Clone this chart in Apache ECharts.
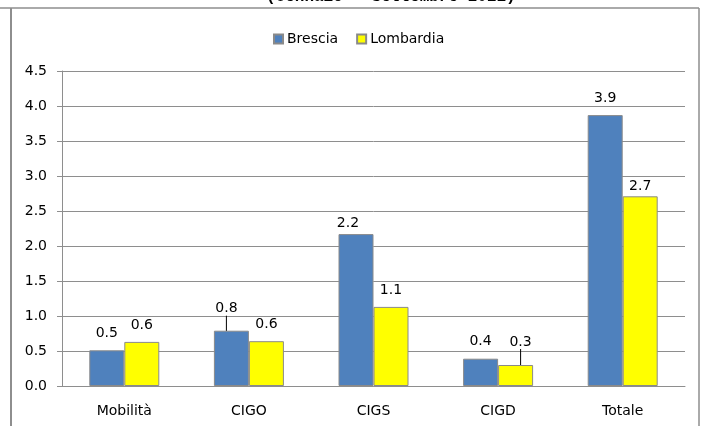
<!DOCTYPE html>
<html>
<head>
<meta charset="utf-8">
<script src="https://cdn.jsdelivr.net/npm/echarts@6/dist/echarts.min.js"></script>
<style>
  html, body { margin: 0; padding: 0; background: #fff; }
  #chart { width: 704px; height: 426px; }
</style>
</head>
<body>
<div id="chart"></div>
<script>
    'use strict';

    const categories = ['Mobilità', 'CIGO', 'CIGS', 'CIGD', 'Totale'];
    const brescia = [0.51, 0.79, 2.17, 0.39, 3.87];
    const lombardia = [0.63, 0.64, 1.13, 0.30, 2.71];
    const yTicks = [0, 0.5, 1, 1.5, 2, 2.5, 3, 3.5, 4, 4.5];

    // label nudges (seriesIndex -> dataIndex -> [dx, dy, leader line])
    const labelMoves = {
        0: { 1: [-5, -5, true], 2: [-8, 6, false] },
        1: { 3: [5, -6, true], 4: [0, 7, false] }
    };

    const font = 'DejaVu Sans';
    const gray = '#8e8e8e';

    const chart = echarts.init(document.getElementById('chart'));

    function barSeries(name, values, color, idx) {
        const moves = labelMoves[idx] || {};
        return {
            name: name,
            type: 'bar',
            data: values.map(function(v, i) {
                const m = moves[i];
                return { value: v, labelLine: { show: !!(m && m[2]) } };
            }),
            barWidth: 35,
            barGap: '0%',
            itemStyle: { color: color, borderColor: '#8a8a8a', borderWidth: 1 },
            label: {
                show: true,
                position: 'top',
                distance: 10,
                color: '#000',
                fontFamily: font,
                fontSize: 14,
                formatter: function(p) { return p.value.toFixed(1); }
            },
            labelLine: { show: false, lineStyle: { color: '#000', width: 1 } },
            labelLayout: function(p) {
                const m = moves[p.dataIndex];
                if (!m) return {};
                return { dx: m[0], dy: m[1] };
            }
        };
    }

    const option = {
        animation: false,
        backgroundColor: '#fff',
        graphic: [
            {
                type: 'text',
                left: 391 - 125,
                top: -11,
                style: {
                    text: '(Gennaio - Settembre 2011)',
                    font: 'bold 16px "Liberation Mono"',
                    fill: '#000'
                }
            },
            {
                type: 'line',
                shape: { x1: 0, y1: 8, x2: 699, y2: 8 },
                style: { stroke: gray, lineWidth: 1.5 }
            },
            {
                type: 'line',
                shape: { x1: 11, y1: 8, x2: 11, y2: 426 },
                style: { stroke: gray, lineWidth: 2 }
            },
            {
                type: 'line',
                shape: { x1: 699, y1: 8, x2: 699, y2: 426 },
                style: { stroke: gray, lineWidth: 1.5 }
            }
        ],
        legend: {
            data: ['Brescia', 'Lombardia'],
            left: 268,
            top: 27,
            itemWidth: 9,
            itemHeight: 9,
            itemGap: 18,
            icon: 'rect',
            textStyle: { fontFamily: font, fontSize: 14, color: '#000', padding: [0, 0, 0, -1] }
        },
        grid: { left: 62, right: 19, top: 71, bottom: 40, containLabel: false },
        xAxis: {
            type: 'category',
            data: categories,
            axisLine: { lineStyle: { color: gray } },
            axisTick: { show: false },
            axisLabel: { color: '#000', fontFamily: font, fontSize: 14, margin: 18 }
        },
        yAxis: {
            type: 'value',
            min: yTicks[0],
            max: yTicks[yTicks.length - 1],
            interval: 0.5,
            axisLine: { show: true, lineStyle: { color: gray } },
            axisTick: { show: true, length: 5, lineStyle: { color: gray } },
            splitLine: { lineStyle: { color: gray } },
            axisLabel: {
                color: '#000',
                fontFamily: font,
                fontSize: 14,
                margin: 15,
                formatter: function(v) { return v.toFixed(1); }
            }
        },
        series: [
            barSeries('Brescia', brescia, '#4f81bd', 0),
            barSeries('Lombardia', lombardia, '#ffff00', 1)
        ]
    };

    chart.setOption(option);
</script>
</body>
</html>
